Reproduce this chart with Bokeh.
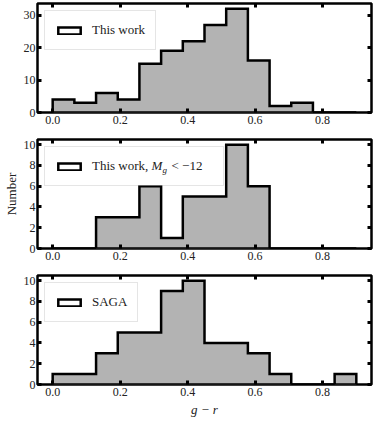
import numpy as np
from bokeh.plotting import figure
from bokeh.layouts import column
from bokeh.models import (FixedTicker, NumeralTickFormatter, LinearAxis, Legend,
                          LegendItem, Range1d, CustomJSTickFormatter, Label)
from bokeh.embed import file_html
from bokeh.resources import INLINE

# ---- data ----
bin_edges = [0.0, 0.0643, 0.1286, 0.1929, 0.2571, 0.3214, 0.3857, 0.45,
             0.5143, 0.5786, 0.6429, 0.7071, 0.7714, 0.8357, 0.9]
counts_this_work = [4, 3, 6, 4, 15, 19, 22, 27, 32, 16, 2, 3, 0, 0]
counts_bright = [0, 0, 3, 3, 6, 1, 5, 5, 10, 6, 0, 0, 0, 0]
counts_saga = [1, 1, 3, 5, 5, 9, 10, 4, 4, 3, 1, 0, 0, 1]
labels = ["This work", "This work,", "SAGA"]
mag_symbol = "M"
mag_band = "g"
mag_cut = "< \u221212"
x_ticks = [0.0, 0.2, 0.4, 0.6, 0.8]
y_ticks_top = [0, 10, 20, 30]
y_ticks_other = [0, 2, 4, 6, 8, 10]
y_max = [33.6, 10.5, 10.5]

FONT = "Liberation Serif"
FILL = "#b3b3b3"
TXT = "#222222"
FRAME_H = 109


def make_panel(counts, label, yticks, ymax, height, bottom_border, ylabel=None,
               xlabel=None, pad_label=0, legend_alpha=0.8):
    p = figure(width=374, height=height, output_backend="svg", toolbar_location=None,
               x_range=Range1d(-0.045, 0.945), y_range=Range1d(0, ymax),
               min_border_left=32, min_border_right=3, min_border_top=3,
               min_border_bottom=bottom_border)
    p.xgrid.visible = False
    p.ygrid.visible = False
    p.outline_line_color = "black"
    p.outline_line_width = 2.5
    p.background_fill_color = "white"

    edges = np.asarray(bin_edges)
    c = np.asarray(counts, dtype=float)
    xs = np.repeat(edges, 2)
    ys = np.concatenate([[0.0], np.repeat(c, 2), [0.0]])
    p.patch(xs, ys, fill_color=FILL, line_color=None)
    outline = p.patch(xs, ys, fill_color=None, line_color="black", line_width=2.5,
                      line_join="miter")

    for ax in (p.xaxis[0], p.yaxis[0]):
        ax.major_tick_in = 4
        ax.major_tick_out = 0
        ax.major_tick_line_width = 3
        ax.minor_tick_line_color = None
        ax.axis_line_color = None
        ax.major_label_text_font = FONT
        ax.major_label_text_font_size = "12px"
        ax.major_label_text_color = TXT
        ax.major_label_standoff = 3
    p.xaxis[0].ticker = FixedTicker(ticks=x_ticks)
    p.xaxis[0].formatter = NumeralTickFormatter(format="0.0")
    p.yaxis[0].ticker = FixedTicker(ticks=yticks)
    p.yaxis[0].major_label_standoff = 2

    if ylabel:
        p.yaxis[0].axis_label = ylabel
        p.yaxis[0].axis_label_text_font = FONT
        p.yaxis[0].axis_label_text_font_style = "normal"
        p.yaxis[0].axis_label_text_font_size = "13px"
        p.yaxis[0].axis_label_text_color = TXT
        p.yaxis[0].axis_label_standoff = 2
    if xlabel:
        p.xaxis[0].axis_label = xlabel
        p.xaxis[0].axis_label_text_font = FONT
        p.xaxis[0].axis_label_text_font_style = "italic"
        p.xaxis[0].axis_label_text_font_size = "13px"
        p.xaxis[0].axis_label_text_color = TXT
        p.xaxis[0].axis_label_standoff = 3

    for loc, tk in (("right", yticks), ("above", x_ticks)):
        ax = LinearAxis(ticker=FixedTicker(ticks=tk),
                        formatter=CustomJSTickFormatter(code="return ''"),
                        major_tick_in=4, major_tick_out=0, major_tick_line_width=3,
                        minor_tick_line_color=None, axis_line_color=None,
                        major_label_standoff=0, major_label_text_font_size="0px")
        p.add_layout(ax, loc)

    legend = Legend(items=[LegendItem(label=label + " " * pad_label, renderers=[outline])],
                    location="top_left", border_line_color="#cccccc",
                    border_line_width=1, background_fill_alpha=legend_alpha,
                    glyph_width=28, glyph_height=9, padding=10, margin=7,
                    label_height=18, label_standoff=9,
                    label_text_font=FONT, label_text_font_size="13px",
                    label_text_color=TXT)
    p.add_layout(legend)
    return p


p1 = make_panel(counts_this_work, labels[0], y_ticks_top, y_max[0], 136, 24)
p2 = make_panel(counts_bright, labels[1], y_ticks_other, y_max[1], 136, 24,
                ylabel="Number", pad_label=20, legend_alpha=0.0)

# math part of the middle legend label: M_g < -12
row_y = FRAME_H - 26
p2.add_layout(Label(x=114, y=row_y, x_units="screen", y_units="screen", text=mag_symbol,
                    text_font=FONT, text_font_style="italic", text_font_size="13px",
                    text_color=TXT, text_baseline="middle", text_align="left"))
p2.add_layout(Label(x=125, y=row_y - 4, x_units="screen", y_units="screen", text=mag_band,
                    text_font=FONT, text_font_style="italic", text_font_size="9px",
                    text_color=TXT, text_baseline="middle", text_align="left"))
p2.add_layout(Label(x=134, y=row_y, x_units="screen", y_units="screen", text=mag_cut,
                    text_font=FONT, text_font_style="normal", text_font_size="13px",
                    text_color=TXT, text_baseline="middle", text_align="left"))

p3 = make_panel(counts_saga, labels[2], y_ticks_other, y_max[2], 147, 35, xlabel="g \u2212 r")

layout = column(p1, p2, p3, spacing=0)
open("out.html", "w").write(file_html(layout, INLINE))
